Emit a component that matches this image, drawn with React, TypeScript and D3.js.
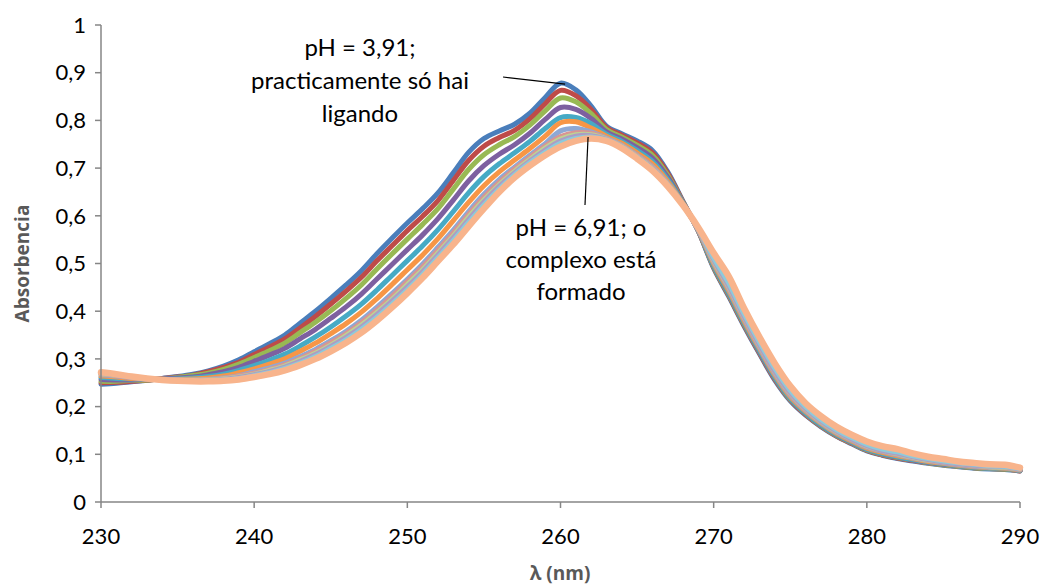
import React from "react";
import * as d3 from "d3";

// wavelength grid (nm)
const wavelengths: number[] = d3.range(230, 291, 1);

const s01_blue = [0.247,0.249,0.252,0.255,0.259,0.263,0.268,0.275,0.285,0.298,0.315,0.332,0.35,0.375,0.4,0.427,0.455,0.485,0.52,0.553,0.585,0.615,0.648,0.69,0.733,0.762,0.778,0.792,0.815,0.848,0.878,0.864,0.83,0.788,0.772,0.757,0.737,0.692,0.63,0.568,0.49,0.43,0.368,0.31,0.255,0.212,0.182,0.158,0.138,0.122,0.107,0.098,0.091,0.086,0.081,0.077,0.074,0.071,0.069,0.068,0.065];
const s02_red = [0.25,0.251,0.253,0.255,0.259,0.262,0.266,0.273,0.282,0.293,0.309,0.325,0.342,0.365,0.389,0.415,0.442,0.471,0.505,0.537,0.569,0.599,0.632,0.674,0.716,0.746,0.764,0.779,0.803,0.835,0.863,0.852,0.823,0.785,0.769,0.753,0.732,0.689,0.629,0.568,0.492,0.432,0.37,0.312,0.257,0.214,0.183,0.159,0.139,0.123,0.108,0.099,0.092,0.087,0.082,0.078,0.075,0.072,0.07,0.069,0.065];
const s03_green = [0.253,0.253,0.255,0.256,0.258,0.261,0.265,0.27,0.278,0.289,0.303,0.317,0.333,0.355,0.377,0.401,0.427,0.455,0.488,0.52,0.551,0.582,0.615,0.656,0.697,0.728,0.749,0.766,0.79,0.82,0.847,0.839,0.814,0.781,0.765,0.748,0.727,0.685,0.628,0.569,0.493,0.434,0.372,0.314,0.259,0.215,0.185,0.16,0.14,0.124,0.109,0.1,0.093,0.088,0.082,0.078,0.075,0.072,0.07,0.069,0.066];
const s04_purple = [0.257,0.256,0.256,0.257,0.258,0.26,0.262,0.267,0.273,0.282,0.295,0.308,0.322,0.342,0.362,0.385,0.409,0.436,0.467,0.498,0.529,0.56,0.594,0.633,0.673,0.705,0.729,0.749,0.773,0.802,0.827,0.823,0.804,0.776,0.761,0.743,0.721,0.681,0.627,0.569,0.495,0.436,0.374,0.315,0.26,0.217,0.186,0.161,0.141,0.125,0.11,0.101,0.094,0.088,0.083,0.079,0.076,0.073,0.071,0.07,0.066];
const s05_aqua = [0.261,0.259,0.258,0.257,0.257,0.258,0.26,0.263,0.268,0.276,0.286,0.297,0.31,0.327,0.346,0.367,0.39,0.415,0.444,0.475,0.506,0.537,0.571,0.609,0.648,0.682,0.709,0.732,0.756,0.783,0.806,0.806,0.793,0.771,0.756,0.737,0.714,0.676,0.626,0.569,0.496,0.438,0.375,0.317,0.262,0.218,0.187,0.162,0.142,0.126,0.111,0.102,0.095,0.089,0.084,0.08,0.076,0.073,0.071,0.07,0.066];
const s06_orange = [0.264,0.262,0.259,0.258,0.257,0.257,0.258,0.26,0.264,0.271,0.279,0.289,0.3,0.316,0.333,0.353,0.374,0.398,0.426,0.456,0.487,0.518,0.552,0.59,0.628,0.663,0.692,0.717,0.741,0.767,0.795,0.797,0.784,0.767,0.752,0.732,0.709,0.672,0.625,0.57,0.5,0.442,0.379,0.321,0.266,0.221,0.19,0.165,0.144,0.128,0.113,0.104,0.097,0.091,0.085,0.081,0.077,0.074,0.072,0.071,0.067];
const s07_lightBlue = [0.267,0.264,0.261,0.258,0.257,0.256,0.256,0.257,0.26,0.265,0.273,0.281,0.291,0.305,0.32,0.338,0.358,0.381,0.408,0.437,0.467,0.499,0.534,0.57,0.609,0.645,0.676,0.702,0.727,0.751,0.778,0.783,0.776,0.763,0.748,0.727,0.703,0.668,0.624,0.571,0.503,0.446,0.383,0.324,0.269,0.224,0.192,0.167,0.146,0.13,0.115,0.106,0.099,0.092,0.087,0.082,0.078,0.075,0.073,0.072,0.068];
const s08_pink = [0.268,0.265,0.261,0.258,0.256,0.255,0.255,0.257,0.259,0.264,0.27,0.278,0.288,0.301,0.316,0.334,0.353,0.376,0.402,0.431,0.462,0.493,0.528,0.564,0.603,0.639,0.67,0.698,0.723,0.746,0.766,0.774,0.773,0.762,0.747,0.726,0.702,0.667,0.623,0.571,0.504,0.448,0.385,0.326,0.271,0.226,0.193,0.168,0.147,0.131,0.116,0.107,0.1,0.093,0.087,0.083,0.079,0.076,0.074,0.073,0.068];
const s09_lightGreen = [0.269,0.266,0.262,0.259,0.256,0.255,0.255,0.256,0.258,0.262,0.268,0.276,0.285,0.298,0.312,0.329,0.349,0.371,0.397,0.425,0.456,0.487,0.522,0.558,0.597,0.633,0.665,0.693,0.718,0.742,0.761,0.77,0.77,0.761,0.746,0.724,0.7,0.666,0.623,0.572,0.506,0.45,0.387,0.328,0.273,0.228,0.195,0.169,0.148,0.132,0.117,0.108,0.101,0.094,0.088,0.084,0.08,0.077,0.074,0.073,0.069];
const s10_lightPurple = [0.27,0.266,0.262,0.259,0.256,0.255,0.254,0.255,0.257,0.261,0.267,0.274,0.283,0.295,0.309,0.326,0.345,0.367,0.393,0.421,0.451,0.483,0.518,0.554,0.592,0.629,0.662,0.69,0.715,0.738,0.757,0.767,0.768,0.76,0.745,0.723,0.699,0.665,0.623,0.572,0.508,0.452,0.388,0.329,0.274,0.229,0.196,0.17,0.149,0.132,0.118,0.108,0.102,0.095,0.089,0.084,0.08,0.077,0.075,0.074,0.069];
const s11_lightAqua = [0.271,0.267,0.262,0.259,0.256,0.254,0.254,0.254,0.256,0.259,0.265,0.271,0.28,0.291,0.305,0.322,0.34,0.362,0.387,0.415,0.445,0.477,0.512,0.548,0.586,0.623,0.656,0.686,0.711,0.733,0.752,0.762,0.765,0.759,0.744,0.722,0.697,0.664,0.622,0.573,0.512,0.458,0.394,0.335,0.28,0.234,0.2,0.173,0.152,0.135,0.121,0.111,0.105,0.097,0.091,0.086,0.082,0.079,0.076,0.075,0.07];
const s12_peach = [0.272,0.268,0.263,0.259,0.256,0.254,0.253,0.253,0.254,0.257,0.262,0.268,0.276,0.287,0.3,0.316,0.334,0.355,0.38,0.408,0.438,0.47,0.505,0.54,0.578,0.615,0.65,0.68,0.705,0.727,0.745,0.757,0.762,0.757,0.742,0.72,0.695,0.662,0.622,0.575,0.522,0.472,0.405,0.345,0.29,0.243,0.207,0.18,0.158,0.141,0.127,0.117,0.111,0.102,0.095,0.09,0.085,0.082,0.079,0.078,0.072];

const seriesValues: number[][] = [
  s01_blue, s02_red, s03_green, s04_purple, s05_aqua, s06_orange,
  s07_lightBlue, s08_pink, s09_lightGreen, s10_lightPurple, s11_lightAqua, s12_peach,
];
const seriesColors: string[] = [
  "#4A7EBB", "#BE4B48", "#98B954", "#7D60A0", "#46AAC5", "#F79646",
  "#8EA8D4", "#D89593", "#BED393", "#AC9DC4", "#8DCADB", "#F8B48C",
];

const yTicks: number[] = [0, 0.1, 0.2, 0.3, 0.4, 0.5, 0.6, 0.7, 0.8, 0.9, 1];
const xTicks: number[] = [230, 240, 250, 260, 270, 280, 290];

const annotationTop: string[] = ["pH = 3,91;", "practicamente só hai", "ligando"];
const annotationBottom: string[] = ["pH = 6,91; o", "complexo está", "formado"];

const W = 1041;
const H = 586;
const FONT = "Lato, 'Open Sans', sans-serif";
const TITLE_FONT = "'Open Sans', 'Liberation Sans', sans-serif";

export default function App() {
  const x = d3.scaleLinear().domain([230, 290]).range([101, 1020]);
  const y = d3.scaleLinear().domain([0, 1]).range([502, 25]);

  const line = d3
    .line<number>()
    .x((_, i) => x(wavelengths[i]))
    .y((d) => y(d))
    .curve(d3.curveCatmullRom.alpha(0.5));

  const fmt = (v: number) => (v === 0 ? "0" : v === 1 ? "1" : d3.format(".1f")(v).replace(".", ","));

  return (
    <svg
      width={W}
      height={H}
      style={{ position: "absolute", left: 0, top: 0, background: "#fff" }}
      fontFamily={FONT}
    >
      <rect x={0} y={0} width={W} height={H} fill="#fff" />
      {seriesValues.map((vals, i) => (
        <path
          key={i}
          d={line(vals) || ""}
          fill="none"
          stroke={seriesColors[i]}
          strokeWidth={i === seriesValues.length - 1 ? 6.5 : 5}
          strokeLinejoin="round"
          strokeLinecap="round"
        />
      ))}

      <line x1={x(230)} x2={x(230)} y1={y(1)} y2={y(0)} stroke="#868686" strokeWidth={1.5} />
      <line x1={x(230)} x2={x(290)} y1={y(0)} y2={y(0)} stroke="#868686" strokeWidth={1.5} />
      {yTicks.map((t) => (
        <g key={"y" + t}>
          <line x1={x(230) - 6} x2={x(230)} y1={y(t)} y2={y(t)} stroke="#868686" strokeWidth={1.5} />
          <text x={86} y={y(t)} dy="0.35em" textAnchor="end" fontSize={22} fill="#000">
            {fmt(t)}
          </text>
        </g>
      ))}
      {xTicks.map((t) => (
        <g key={"x" + t}>
          <line x1={x(t)} x2={x(t)} y1={y(0)} y2={y(0) + 6} stroke="#868686" strokeWidth={1.5} />
          <text x={x(t)} y={536} dy="0.35em" textAnchor="middle" fontSize={22} fill="#000">
            {t}
          </text>
        </g>
      ))}

      <text
        transform={`translate(22,${y(0.5)}) rotate(-90)`}
        textAnchor="middle"
        dy="0.35em"
        fontSize={19}
        fontWeight="bold"
        fill="#595959"
        fontFamily={TITLE_FONT}
      >
        Absorbencia
      </text>
      <text
        x={560}
        y={580}
        textAnchor="middle"
        fontSize={19}
        fontWeight="bold"
        fill="#595959"
        fontFamily={TITLE_FONT}
      >
        λ (nm)
      </text>

      <line x1={503} y1={77} x2={x(260.3)} y2={y(0.876)} stroke="#000" strokeWidth={1.2} />
      {annotationTop.map((s, i) => (
        <text key={"a" + i} x={360} y={48 + i * 33} dy="0.35em" textAnchor="middle" fontSize={24} fill="#000">
          {s}
        </text>
      ))}

      <rect x={503} y={208} width={156} height={98} fill="#fff" />
      <line x1={585} y1={205} x2={x(261.8)} y2={y(0.765)} stroke="#000" strokeWidth={1.2} />
      {annotationBottom.map((s, i) => (
        <text key={"b" + i} x={581} y={228 + i * 32} dy="0.35em" textAnchor="middle" fontSize={24} fill="#000">
          {s}
        </text>
      ))}
    </svg>
  );
}
